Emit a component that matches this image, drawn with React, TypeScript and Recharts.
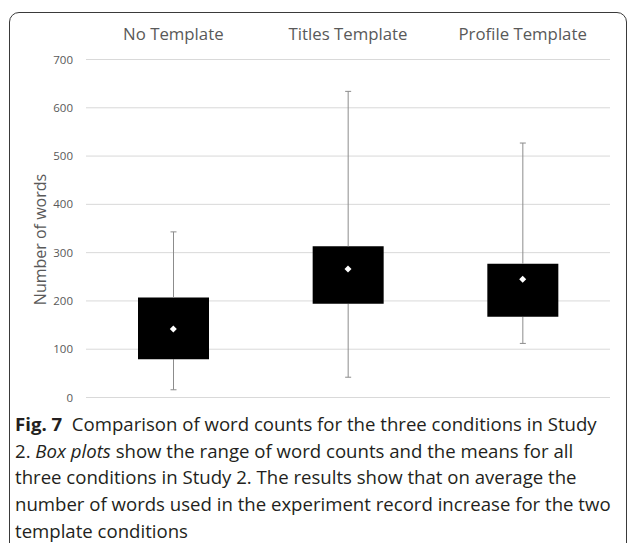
import { ComposedChart, Bar, Line, XAxis, YAxis, CartesianGrid } from 'recharts';

const categories = ['No Template', 'Titles Template', 'Profile Template'];
const minWords = [16, 42, 112];
const q1Words = [79, 194, 167];
const q3Words = [207, 313, 277];
const maxWords = [343, 634, 527];
const meanWords = [142, 266, 245];
const yTicks = [0, 100, 200, 300, 400, 500, 600, 700];

const data = categories.map((name, i) => ({
  name,
  base: minWords[i],
  lower: q1Words[i] - minWords[i],
  box: q3Words[i] - q1Words[i],
  upper: maxWords[i] - q3Words[i],
  mean: meanWords[i],
}));

const WHISKER = '#8c8c8c';

function LowerWhisker(props: any) {
  const { x, y, width, height } = props;
  const cx = x + width / 2;
  return (
    <g>
      <line x1={cx} x2={cx} y1={y} y2={y + height} stroke={WHISKER} strokeWidth={1} />
      <line x1={cx - 3} x2={cx + 3} y1={y + height} y2={y + height} stroke={WHISKER} strokeWidth={1} />
    </g>
  );
}

function UpperWhisker(props: any) {
  const { x, y, width, height } = props;
  const cx = x + width / 2;
  return (
    <g>
      <line x1={cx} x2={cx} y1={y} y2={y + height} stroke={WHISKER} strokeWidth={1} />
      <line x1={cx - 3} x2={cx + 3} y1={y} y2={y} stroke={WHISKER} strokeWidth={1} />
    </g>
  );
}

function MeanDot(props: any) {
  const { cx, cy } = props;
  if (cx == null || cy == null) return null;
  return <path d={`M${cx},${cy - 3.5}L${cx + 3.5},${cy}L${cx},${cy + 3.5}L${cx - 3.5},${cy}Z`} fill="#fff" />;
}

function YTitle(props: any) {
  const { viewBox } = props;
  const cx = viewBox.x + 40;
  const cy = viewBox.y + viewBox.height / 2 + 11;
  return (
    <text
      x={cx}
      y={cy}
      transform={`rotate(-90 ${cx} ${cy})`}
      textAnchor="middle"
      dominantBaseline="central"
      fontSize={16}
      fill="#595959"
      fontFamily="Open Sans"
    >
      Number of words
    </text>
  );
}

export default function App() {
  return (
    <div style={{ position: 'absolute', left: 0, top: 0, width: 629, height: 543, overflow: 'hidden', background: '#fff' }}>
      <div
        style={{
          position: 'absolute',
          left: 9,
          top: 12,
          width: 618,
          height: 600,
          border: '1.5px solid #3a3a3a',
          borderRadius: 10,
          boxSizing: 'border-box',
        }}
      />
      <div style={{ position: 'absolute', left: 0, top: 0 }}>
        <ComposedChart width={629} height={420} data={data} margin={{ top: 29.5, right: 19, left: 0, bottom: 22.5 }}>
          <CartesianGrid vertical={false} stroke="#d9d9d9" />
          <XAxis
            dataKey="name"
            orientation="top"
            axisLine={false}
            tickLine={false}
            tickSize={0}
            tickMargin={20}
            tick={{ fontSize: 16.8, fill: '#595959', fontFamily: 'Open Sans' }}
          />
          <YAxis
            domain={[0, 700]}
            ticks={yTicks}
            width={86}
            axisLine={false}
            tickLine={false}
            tickSize={0}
            tickMargin={13}
            tick={{ fontSize: 11.5, fill: '#595959', fontFamily: 'Open Sans' }}
            label={{ content: YTitle }}
          />
          <Bar dataKey="base" stackId="a" fill="transparent" barSize={71} isAnimationActive={false} />
          <Bar dataKey="lower" stackId="a" shape={LowerWhisker} barSize={71} isAnimationActive={false} />
          <Bar dataKey="box" stackId="a" fill="#000" barSize={71} isAnimationActive={false} />
          <Bar dataKey="upper" stackId="a" shape={UpperWhisker} barSize={71} isAnimationActive={false} />
          <Line dataKey="mean" stroke="transparent" dot={<MeanDot />} activeDot={false} isAnimationActive={false} />
        </ComposedChart>
      </div>
      <div
        style={{
          position: 'absolute',
          left: 15,
          top: 411,
          width: 614,
          fontFamily: 'Open Sans',
          fontSize: 18.6,
          lineHeight: '26.7px',
          color: '#231f20',
          whiteSpace: 'nowrap',
        }}
      >
        <b>Fig. 7</b>&nbsp; Comparison of word counts for the three conditions in Study
        <br />
        2. <i>Box plots</i> show the range of word counts and the means for all
        <br />
        three conditions in Study 2. The results show that on average the
        <br />
        number of words used in the experiment record increase for the two
        <br />
        template conditions
      </div>
    </div>
  );
}
